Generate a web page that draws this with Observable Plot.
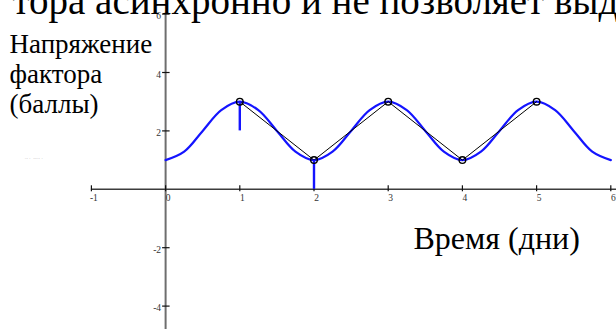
<!DOCTYPE html>
<html>
<head>
<meta charset="utf-8">
<script src="https://cdn.jsdelivr.net/npm/d3@7"></script>
<script src="https://cdn.jsdelivr.net/npm/@observablehq/plot@0.6"></script>
<style>
  html, body { margin: 0; padding: 0; background: #fff; }
  #chart svg { display: block; }
  #chart svg, #chart svg text { font-family: "Liberation Serif", "Times New Roman", serif !important; }
</style>
</head>
<body>
<div id="chart"></div>
<script>
// Smooth blue curve
const curveX = [0, 0.25, 0.5, 0.75, 1, 1.25, 1.5, 1.75, 2, 2.25, 2.5, 2.75, 3, 3.25, 3.5, 3.75, 4, 4.25, 4.5, 4.75, 5, 5.25, 5.5, 5.75, 6];
const curveY = [1, 1.29, 2, 2.71, 3, 2.71, 2, 1.29, 1, 1.29, 2, 2.71, 3, 2.71, 2, 1.29, 1, 1.29, 2, 2.71, 3, 2.71, 2, 1.29, 1];

// Black polyline with open circles
const pointX = [1, 2, 3, 4, 5];
const pointY = [3, 1, 3, 1, 3];

// Blue vertical stems
const stemX = [1, 2];
const stemTop = [3, 1];
const stemBottom = [2, 0];

// Axis ticks
const xTicks = [-1, 0, 1, 2, 3, 4, 5, 6];
const xTickLabels = ["-1", "0", "1", "2", "3", "4", "5", "6"];
const yTicks = [-4, -2, 2, 4, 6];
const yTickLabels = ["-4", "-2", "2", "4", "6"];

// Texts
const titleText = "тора асинхронно и не позволяет выд";
const yLabel = "Напряжение\nфактора\n(баллы)";
const xLabel = "Время (дни)";

const curve = curveX.map((x, i) => ({x, y: curveY[i]}));
const points = pointX.map((x, i) => ({x, y: pointY[i]}));
const stems = stemX.map((x, i) => ({x, y1: stemTop[i], y2: stemBottom[i]}));
const xt = xTicks.map((v, i) => ({v, label: xTickLabels[i]}));
const yt = yTicks.map((v, i) => ({v, label: yTickLabels[i]}));

const serif = "Liberation Serif, Times New Roman, serif";

const chart = Plot.plot({
  width: 616,
  height: 329,
  margin: 0,
  style: {background: "#fff"},
  x: {domain: [-2.2251, 6.0768], axis: null},
  y: {domain: [-4.8014, 6.4658], axis: null},
  marks: [
    // axes lines
    Plot.ruleX([0], {x: d => d, y1: 6, y2: -4.8014, stroke: "#6e6e6e", strokeWidth: 2}),
    Plot.ruleY([0], {y: d => d, x1: -1, x2: 6.0768, stroke: "#3c3c3c", strokeWidth: 1.6}),
    // ticks
    Plot.ruleX(xt, {x: "v", y1: 0, y2: 0, insetTop: -3.5, insetBottom: -2.5, stroke: "#111", strokeWidth: 1.2}),
    Plot.ruleY(yt, {y: "v", x1: 0, x2: 0, insetLeft: -3, insetRight: -4.5, stroke: "#111", strokeWidth: 1.2}),
    // tick labels
    Plot.text(xt, {x: "v", y: 0, text: "label", dx: 2.5, dy: 8.5, fontSize: 9.5, fill: "#333", fontFamily: serif}),
    Plot.text(yt, {x: 0, y: "v", text: "label", dx: -4.5, dy: 2, textAnchor: "end", fontSize: 9.5, fill: "#333", fontFamily: serif}),
    // blue curve
    Plot.line(curve, {x: "x", y: "y", curve: "catmull-rom", stroke: "#1414ff", strokeWidth: 2.2}),
    // black polyline
    Plot.line(points, {x: "x", y: "y", stroke: "#000", strokeWidth: 1}),
    // blue stems
    Plot.ruleX(stems, {x: "x", y1: "y1", y2: "y2", stroke: "#1414ff", strokeWidth: 2.4}),
    // open circles
    Plot.dot(points, {x: "x", y: "y", r: 3.3, stroke: "#000", strokeWidth: 1.4, fill: "none"}),
    // texts
    Plot.text([titleText], {text: d => d, frameAnchor: "top-left", textAnchor: "start", lineAnchor: "bottom", dx: 12, dy: 13, fontSize: 39, fill: "#000", fontFamily: serif}),
    Plot.text([yLabel], {text: d => d, frameAnchor: "top-left", textAnchor: "start", lineAnchor: "bottom", lineHeight: 1.11, dx: 9, dy: 112.5, fontSize: 27, fill: "#000", fontFamily: serif}),
    Plot.text([xLabel], {text: d => d, frameAnchor: "top-left", textAnchor: "start", lineAnchor: "bottom", dx: 413, dy: 248, fontSize: 32, fill: "#000", fontFamily: serif}),
    Plot.text(["·‐ ·  ‐‐·‐ ·"], {text: d => d, frameAnchor: "top-left", textAnchor: "start", lineAnchor: "middle", dx: 24, dy: 158, fontSize: 5, fill: "#aaa", fontFamily: serif})
  ]
});

document.getElementById("chart").appendChild(chart);
</script>
</body>
</html>
